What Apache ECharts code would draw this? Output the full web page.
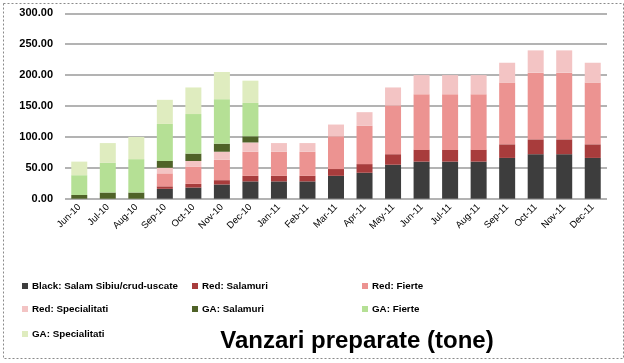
<!DOCTYPE html>
<html>
<head>
<meta charset="utf-8">
<script src="https://cdn.jsdelivr.net/npm/echarts@6/dist/echarts.min.js"></script>
<style>
html,body{margin:0;padding:0;background:#fff;}
#chart{width:624px;height:363px;}
</style>
</head>
<body>
<div id="chart"></div>
<script>
var categories = ["Jun-10","Jul-10","Aug-10","Sep-10","Oct-10","Nov-10","Dec-10","Jan-11","Feb-11","Mar-11","Apr-11","May-11","Jun-11","Jul-11","Aug-11","Sep-11","Oct-11","Nov-11","Dec-11"];
var blackSalam   = [0,0,0,16,18,23,28,28,28,37,42,55,60,60,60,66,72,72,66];
var redSalamuri  = [0,0,0,4,6,7,9,9,9,11,14,17,19,19,19,22,24,24,22];
var redFierte    = [0,0,0,21,28,33,39,39,39,53,62,79,90,90,90,100,108,108,100];
var redSpecial   = [0,0,0,9,9,13,15,14,14,19,22,29,31,31,31,32,36,36,32];
var gaSalamuri   = [6,10,10,11,12,13,10,0,0,0,0,0,0,0,0,0,0,0,0];
var gaFierte     = [32,48,54,60,64,72,54,0,0,0,0,0,0,0,0,0,0,0,0];
var gaSpecial    = [22,32,36,39,43,44,36,0,0,0,0,0,0,0,0,0,0,0,0];
var yTicks = [0,50,100,150,200,250,300];
var seriesNames = ["Black: Salam Sibiu/crud-uscate","Red: Salamuri","Red: Fierte","Red: Specialitati","GA: Salamuri","GA: Fierte","GA: Specialitati"];
var seriesData = [blackSalam, redSalamuri, redFierte, redSpecial, gaSalamuri, gaFierte, gaSpecial];
var colors = ["#3d3d3d","#a83c3c","#ec9391","#f3c4c4","#4f6228","#b5e095","#dfecbf"];
var title = "Vanzari preparate (tone)";

var font = "'Liberation Sans', sans-serif";
var legendPos = [[17,276],[187,276],[357,276],[17,299],[187,299],[357,299],[17,324]];

var chart = echarts.init(document.getElementById('chart'));
var option = {
  animation: false,
  color: colors,
  title: {
    text: title, left: 352, top: 324, textAlign: 'center',
    textStyle: {fontFamily: font, fontWeight: 'bold', fontSize: 24, color: '#000'}
  },
  legend: seriesNames.map(function(n, i){
    return {
      data: [n], left: legendPos[i][0], top: legendPos[i][1],
      itemWidth: 6, itemHeight: 6, icon: 'rect', itemGap: 4,
      textStyle: {fontFamily: font, fontWeight: 'bold', fontSize: 9.8, color: '#000', padding: [0,0,0,-1]}
    };
  }),
  grid: {left: 65, right: 17, top: 13.3, bottom: 164.3, containLabel: false},
  xAxis: {
    type: 'category', data: categories,
    axisLine: {show: false},
    axisTick: {show: false},
    axisLabel: {rotate: 45, fontFamily: font, fontSize: 9.5, color: '#000', margin: 7, interval: 0}
  },
  yAxis: {
    type: 'value', min: 0, max: 300, interval: 50,
    axisLine: {show: false}, axisTick: {show: false},
    splitLine: {lineStyle: {color: '#9a9a9a', width: 1.5}},
    axisLabel: {
      fontFamily: font, fontWeight: 'bold', fontSize: 11, color: '#000', margin: 12,
      formatter: function(v){ return v.toFixed(2); },
      customValues: yTicks
    }
  },
  series: seriesNames.map(function(n, i){
    return {
      name: n, type: 'bar', stack: 'total', barWidth: 16,
      data: seriesData[i],
      itemStyle: {color: colors[i]}
    };
  }),
  graphic: [{
    type: 'rect', left: 1, top: 1, silent: true,
    shape: {width: 620, height: 355},
    style: {fill: 'none', stroke: '#8a8a8a', lineWidth: 1, lineDash: [2,2]}
  }]
};
chart.setOption(option);
</script>
</body>
</html>
